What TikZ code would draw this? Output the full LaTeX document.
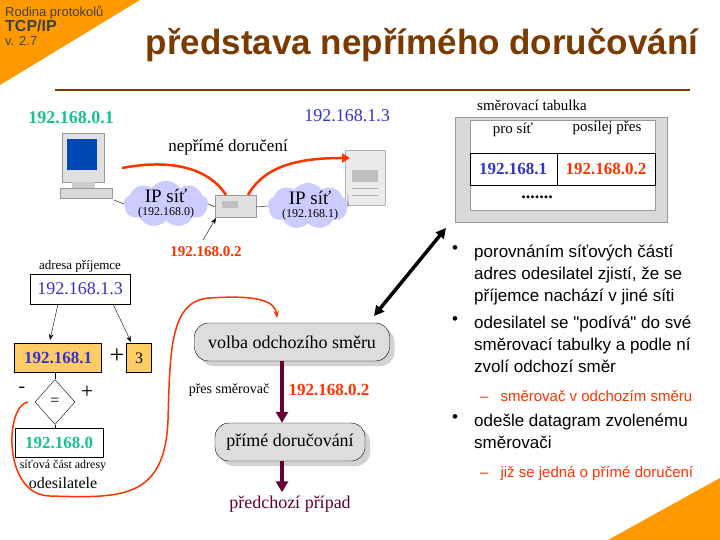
\documentclass[tikz,border=0pt]{standalone}
\usepackage{fontspec}
\setmainfont{Liberation Serif}
\newfontfamily\arial{Liberation Sans}
\usetikzlibrary{shapes.geometric,shapes.symbols,arrows.meta,shadows}
\definecolor{org}{HTML}{FF9900}
\definecolor{brn}{HTML}{7A3A00}
\definecolor{grn}{HTML}{19C191}
\definecolor{blu}{HTML}{3333CC}
\definecolor{rd}{HTML}{FF3300}
\definecolor{mar}{HTML}{660033}
\definecolor{cl}{HTML}{CCCCFF}
\definecolor{yel}{HTML}{FFCC66}
\definecolor{box}{HTML}{DDDDDD}
\newcommand\fs[1]{\fontsize{#1}{#1}\selectfont}
\tikzset{
 rbox/.style={draw,rounded corners=14pt,fill=box,minimum height=38pt,font=\fs{18},drop shadow={shadow xshift=5pt,shadow yshift=-5pt,fill=gray!70}},
 cloudy/.style={cloud,cloud puffs=9,cloud puff arc=110,aspect=1.8,fill=cl,draw=cl,inner sep=0pt},
 sq/.style={draw,inner sep=0pt,align=center},
 bul/.style={anchor=north west,font=\arial\fontsize{17}{22}\selectfont,align=left,inner sep=0pt},
 mara/.style={draw=mar,line width=4pt,-{Triangle[width=12pt,length=11pt]}}
}
\begin{document}
\begin{tikzpicture}[x=1pt,y=-1pt]
\useasboundingbox (0,0) rectangle (720,540);
\fill[white] (0,0) rectangle (720,540);
\fill[org] (0,0) -- (140,0) -- (0,85) -- cycle;
\fill[org] (720,478) -- (720,540) -- (608,540) -- cycle;
\node[anchor=north west,inner sep=0pt,align=left,font=\arial\fontsize{13}{14}\selectfont,text=black!75] (hdr) at (5,6) {Rodina protokolů\\{\bfseries\fs{16}TCP/IP}\\v. 2.7};
\node[font=\arial\bfseries\fs{35},text=brn] (title) at (422,45) {představa nepřímého doručování};
\draw[brn,line width=2.5pt] (55,90) -- (690,90);
% PC
\node (pc) at (85,165) {};
\fill[black!15,draw=black!40] (60,188) rectangle (112,198);
\fill[black!12,draw=black!40] (62,133) rectangle (104,182);
\fill[blue!60!cyan!70!black] (67,139) rectangle (97,170);
\fill[black!20] (72,182) rectangle (95,188);
% server
\node (srv) at (365,178) {};
\fill[black!8,draw=black!30] (345,150) rectangle (385,205);
\fill[black!25] (352,170) rectangle (378,182);
\draw[black!30] (352,188) -- (378,188) (352,195) -- (378,195);
% router
\node (rt) at (236,205) {};
\fill[black!12,draw=black!40] (215,195) rectangle (256,217);
\fill[black!25] (222,201) rectangle (238,208);
\node[cloudy,minimum width=84pt,minimum height=46pt] (c1) at (166,204) {};
\node[cloudy,minimum width=80pt,minimum height=46pt] (c2) at (308,206) {};
\node[font=\fs{19}] (c1a) at (166,196) {IP síť};
\node[font=\fs{12}] (c1b) at (166,213) {(192.168.0)};
\node[font=\fs{19}] (c2a) at (310,198) {IP síť};
\node[font=\fs{12}] (c2b) at (310,215) {(192.168.1)};
\draw (114,200) -- (c1.west) (c1.east) -- (215,207) (256,207) -- (c2.west) (c2.east) -- (348,195);
\node[font=\bfseries\fs{18},text=grn] (ip1) at (71,118) {192.168.0.1};
\node[font=\fs{18},text=blu] (ip3) at (347,116) {192.168.1.3};
\node[font=\fs{17}] (nd) at (228,147) {nepřímé doručení};
\node[font=\bfseries\fs{15},text=rd] (ip2) at (206,252) {192.168.0.2};
\draw[-{Stealth[length=6pt]}] (203,240) -- (216,218);
\draw[rd,line width=2.5pt] (122,168) .. controls (175,158) and (210,170) .. (226,195);
\draw[rd,line width=2.5pt,-{Triangle[width=9pt,length=8pt]}] (248,195) .. controls (265,165) and (300,158) .. (350,158);
% routing table
\node[font=\fs{15}] (st) at (532,105) {směrovací tabulka};
\fill[black!15,draw=black!40] (455,117) rectangle (667,222);
\fill[white,draw=black!40] (470,120) rectangle (655,210);
\node[font=\fs{15}] (ps) at (513,130) {pro síť};
\node[font=\fs{15}] (pp) at (607,128) {posílej přes};
\draw (470,153) rectangle (655,185) (557,153) -- (557,185);
\node[font=\bfseries\fs{17},text=blu] (r1) at (513,169) {192.168.1};
\node[font=\bfseries\fs{17},text=rd] (r2) at (606,169) {192.168.0.2};
\node[font=\bfseries\fs{18}] (dots) at (537,197) {.......};
\coordinate (da) at (446,228); \coordinate (db) at (374,316);
\draw[line width=3.5pt,{Triangle[width=10pt,length=10pt]}-{Triangle[width=10pt,length=10pt]}] (da) -- (db);
% bullets
\node[bul] (b1) at (452,245) {•}; \node[bul] (t1) at (474,245) {porovnáním síťových částí\\adres odesilatel zjistí, že se\\příjemce nachází v jiné síti};
\node[bul] (b2) at (452,316) {•}; \node[bul] (t2) at (474,316) {odesilatel se "podívá" do své\\směrovací tabulky a podle ní\\zvolí odchozí směr};
\node[bul,text=rd,font=\arial\fs{15}] (s1) at (480,390) {–\hspace{12pt}směrovač v odchozím směru};
\node[bul] (b3) at (452,414) {•}; \node[bul] (t3) at (474,414) {odešle datagram zvolenému\\směrovači};
\node[bul,text=rd,font=\arial\fs{15}] (s2) at (480,466) {–\hspace{12pt}již se jedná o přímé doručení};
% left flow
\node[font=\fs{13}] (ap) at (80,266) {adresa příjemce};
\node[sq,minimum width=100pt,minimum height=30pt,font=\fs{18},text=blu] (a13) at (80,289) {192.168.1.3};
\node[sq,fill=yel,minimum width=87pt,minimum height=29pt,font=\bfseries\fs{17},text=blu] (n1) at (58,358) {192.168.1};
\node[font=\fs{26}] (plus) at (117,356) {+};
\node[sq,fill=yel,minimum width=25pt,minimum height=29pt,font=\fs{16}] (h3) at (139,358) {3};
\draw[-{Stealth[length=6pt]}] (58,304) -- (50,340);
\draw[-{Stealth[length=6pt]}] (113,304) -- (131,342);
\node[diamond,draw,minimum width=40pt,minimum height=45pt,inner sep=0pt,font=\fs{16}] (eq) at (55,402) {=};
\draw (n1.south -| eq) -- (eq.north);
\node[font=\fs{20}] (mi) at (22,390) {-};
\node[font=\fs{22}] (pl) at (87,392) {+};
\node[sq,minimum width=88pt,minimum height=29pt,font=\bfseries\fs{17},text=grn] (n0) at (59,443) {192.168.0};
\draw (eq.south) -- (n0.north -| eq);
\node[font=\fs{12}] (sc) at (63,466) {síťová část adresy};
\node[font=\fs{16}] (od) at (63,483) {odesilatele};
\coordinate (rs) at (28,402);
\draw[rd,line width=1.5pt,-{Stealth[length=7pt]}] (rs) .. controls (5,405) and (2,495) .. (50,496) .. controls (120,498) and (165,500) .. (168,420) .. controls (170,350) and (170,300) .. (210,298) .. controls (255,295) and (275,300) .. (277,318);
% right flow
\node[rbox,minimum width=195pt] (vo) at (292,342) {volba odchozího směru};
\node[rbox,minimum width=150pt] (pd) at (290,442) {přímé doručování};
\draw[mara] (vo.south -| 282,0) -- (pd.north -| 282,0);
\node[font=\fs{14}] (psm) at (229,390) {přes směrovač};
\node[font=\bfseries\fs{17},text=rd] (g2) at (329,390) {192.168.0.2};
\node[font=\fs{18},text=mar] (prp) at (290,504) {předchozí případ};
\draw[mara] (pd.south -| 282,0) -- (prp.north -| 282,0);
\end{tikzpicture}
\end{document}
